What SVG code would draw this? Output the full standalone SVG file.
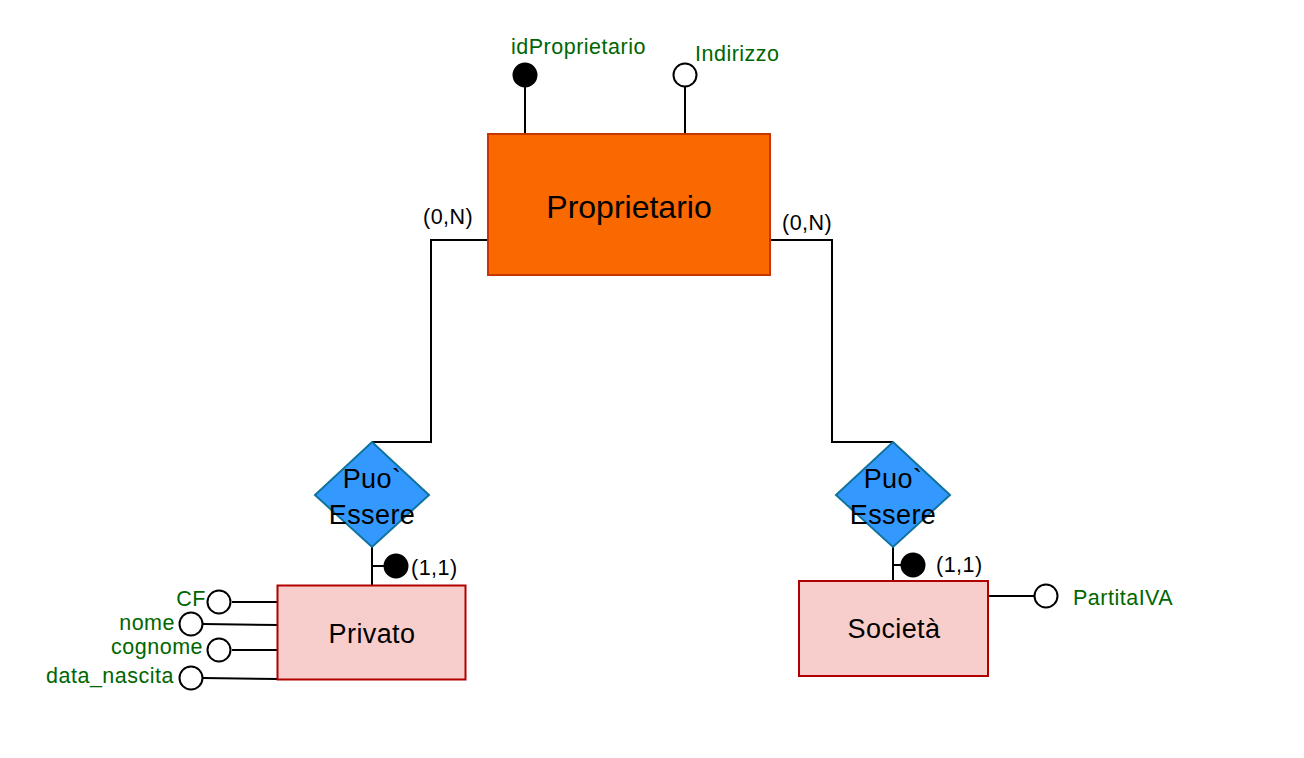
<svg xmlns="http://www.w3.org/2000/svg" width="1304" height="758" viewBox="0 0 1304 758">
<style>
.bg{fill:#ffffff}
.ent{fill:#F8CECC;stroke:#B20000;stroke-width:2}
.main{fill:#FA6800;stroke:#C73500;stroke-width:2}
.rel{fill:#3399FF;stroke:#10739E;stroke-width:2}
.ln{fill:none;stroke:#000000;stroke-width:2}
.att{fill:#ffffff;stroke:#000000;stroke-width:2}
.key{fill:#000000;stroke:#000000;stroke-width:2}
.t{font-family:"Liberation Sans",Arial,sans-serif;fill:#000000}
.big{font-size:32px}
.mid{font-size:27px;letter-spacing:0.4px}
.sm{font-size:21.5px;letter-spacing:0.5px}
.g{fill:#006600}
</style>
<rect class="bg" x="0" y="0" width="1304" height="758"/>
<g id="connectors">
<polyline class="ln" points="488,240 431,240 431,442 372,442"/>
<polyline class="ln" points="770,240 832,240 832,442 893,442"/>
<line class="ln" x1="372" y1="547" x2="372" y2="586"/>
<line class="ln" x1="372" y1="566" x2="385" y2="566"/>
<line class="ln" x1="893" y1="547" x2="893" y2="581"/>
<line class="ln" x1="893" y1="565" x2="901" y2="565"/>
<line class="ln" x1="525" y1="87" x2="525" y2="134"/>
<line class="ln" x1="685" y1="87" x2="685" y2="134"/>
<line class="ln" x1="232" y1="602" x2="278" y2="602"/>
<line class="ln" x1="203" y1="624" x2="278" y2="625"/>
<line class="ln" x1="232" y1="650" x2="278" y2="650"/>
<line class="ln" x1="203" y1="678" x2="278" y2="679"/>
<line class="ln" x1="988" y1="596" x2="1034" y2="596"/>
</g>
<g id="proprietario">
<rect class="main" x="488" y="134" width="282" height="141"/>
<text class="t big" x="629" y="218" text-anchor="middle">Proprietario</text>
</g>
<g id="attr-idProprietario">
<circle class="key" cx="525" cy="75" r="11.5"/>
<text class="t sm g" x="511" y="54">idProprietario</text>
</g>
<g id="attr-indirizzo">
<circle class="att" cx="685" cy="75" r="11.5"/>
<text class="t sm g" x="695" y="61">Indirizzo</text>
</g>
<g id="card-left">
<text class="t sm" x="423" y="224">(0,N)</text>
</g>
<g id="card-right">
<text class="t sm" x="782" y="230">(0,N)</text>
</g>
<g id="rel-left">
<polygon class="rel" points="372,442 429,495 372,547 315,495"/>
<text class="t mid" x="372" y="488" text-anchor="middle">Puo`</text>
<text class="t mid" x="372" y="524" text-anchor="middle">Essere</text>
</g>
<g id="rel-right">
<polygon class="rel" points="893,442 950,495 893,547 836,495"/>
<text class="t mid" x="893" y="488" text-anchor="middle">Puo`</text>
<text class="t mid" x="893" y="524" text-anchor="middle">Essere</text>
</g>
<g id="privato">
<rect class="ent" x="277.5" y="585.5" width="188" height="94"/>
<text class="t mid" x="372" y="643" text-anchor="middle">Privato</text>
</g>
<g id="key-privato">
<circle class="key" cx="396" cy="566" r="11.5"/>
<text class="t sm" x="411" y="575">(1,1)</text>
</g>
<g id="societa">
<rect class="ent" x="799" y="581" width="189" height="95"/>
<text class="t mid" x="894" y="638" text-anchor="middle">Società</text>
</g>
<g id="key-societa">
<circle class="key" cx="913" cy="565" r="11.5"/>
<text class="t sm" x="936" y="572">(1,1)</text>
</g>
<g id="attr-partitaiva">
<circle class="att" cx="1046" cy="596" r="11.5"/>
<text class="t sm g" x="1073" y="605">PartitaIVA</text>
</g>
<g id="attr-cf">
<circle class="att" cx="219" cy="602" r="11.5"/>
<text class="t sm g" x="206" y="606" text-anchor="end">CF</text>
</g>
<g id="attr-nome">
<circle class="att" cx="191" cy="624" r="11.5"/>
<text class="t sm g" x="175" y="630" text-anchor="end">nome</text>
</g>
<g id="attr-cognome">
<circle class="att" cx="219" cy="650" r="11.5"/>
<text class="t sm g" x="203" y="654" text-anchor="end">cognome</text>
</g>
<g id="attr-data-nascita">
<circle class="att" cx="191" cy="678" r="11.5"/>
<text class="t sm g" x="174" y="683" text-anchor="end">data_nascita</text>
</g>
</svg>
